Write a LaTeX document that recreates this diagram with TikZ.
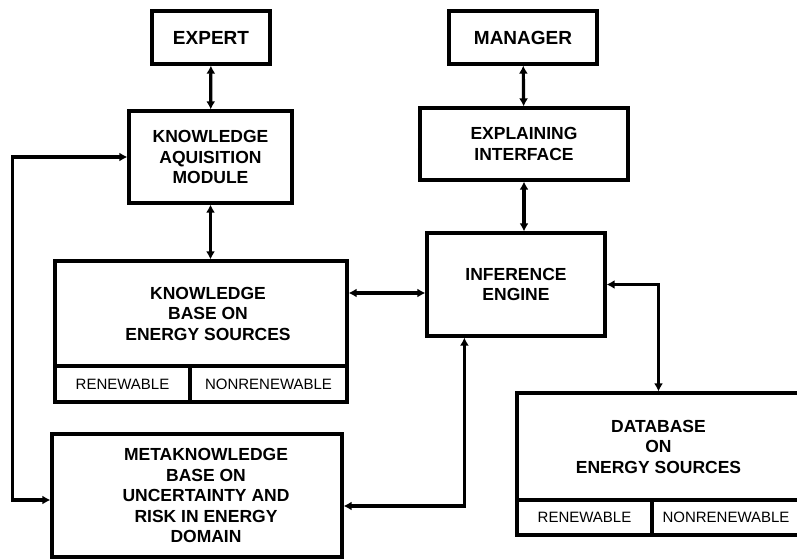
\documentclass[tikz,border=0pt]{standalone}
\usepackage{fontspec}
\setmainfont{Liberation Sans}
\usetikzlibrary{arrows.meta}

\begin{document}
\begin{tikzpicture}[x=1pt, y=-1pt, >={Latex[length=8pt,width=9pt]}, line width=3.2pt]
      \tikzstyle{every node}=[font=\bfseries\fontsize{17.5}{20.5}\selectfont, align=center, inner sep=0pt]
      \tikzstyle{blk}=[draw, rectangle]
      \tikzstyle{cell}=[draw, rectangle, font=\fontsize{15}{18}\selectfont]
      \useasboundingbox (0,0) rectangle (797,559);
      %%
  \node (expert) at (211,37.5) [blk, minimum width=118, minimum height=53, font=\bfseries\fontsize{19}{22}\selectfont] {EXPERT};
  \node (manager) at (523,37.5) [blk, minimum width=148, minimum height=53, font=\bfseries\fontsize{19}{22}\selectfont] {MANAGER};
  \node (kam) at (210.5,157) [blk, minimum width=163, minimum height=92] {KNOWLEDGE\\AQUISITION\\MODULE};
  \node (expl) at (524,144) [blk, minimum width=208, minimum height=72] {EXPLAINING\\INTERFACE};
  \node (inf) at (516,284.5) [blk, minimum width=178, minimum height=103] {INFERENCE\\ENGINE};
  \node (kb) at (201,313.5) [blk, minimum width=292, minimum height=105] {\hspace*{14pt}KNOWLEDGE\\\hspace*{14pt}BASE ON\\\hspace*{14pt}ENERGY SOURCES};
  \node (kbren) at (122.5,384) [cell, minimum width=135, minimum height=36] {RENEWABLE};
  \node (kbnon) at (268.5,384) [cell, minimum width=157, minimum height=36] {NONRENEWABLE};
  \node (meta) at (197,495.5) [blk, minimum width=290, minimum height=123] {\hspace*{18pt}METAKNOWLEDGE\\\hspace*{18pt}BASE ON\\\hspace*{18pt}UNCERTAINTY AND\\\hspace*{18pt}RISK IN ENERGY\\\hspace*{18pt}DOMAIN};
  \node (db) at (658.5,446.5) [blk, minimum width=283, minimum height=107] {DATABASE\\ON\\ENERGY SOURCES};
  \node (dbren) at (584.5,517.5) [cell, minimum width=135, minimum height=35] {RENEWABLE};
  \node (dbnon) at (726,517.5) [cell, minimum width=148, minimum height=35] {NONRENEWABLE};
  %
  \draw [<->] (expert) -- (kam);
  \draw [<->] (kam.south) -- (kam.south |- kb.north);
  \draw [<->] (manager) -- (expl);
  \draw [<->] (expl.south) -- (expl.south |- inf.north);
  \draw [<->] ([yshift=20.5pt]kb.east) -- ([yshift=-8.5pt]inf.west);
  \draw [<->] (inf.east) -| (db.north);
  \draw [<->] ([yshift=-10.5pt]meta.east) -| ([xshift=39pt]inf.south west);
  \draw [<->] (kam.west) -- ++(-115,0) |- ([yshift=-4.5pt]meta.west);
%
\end{tikzpicture}
\end{document}
